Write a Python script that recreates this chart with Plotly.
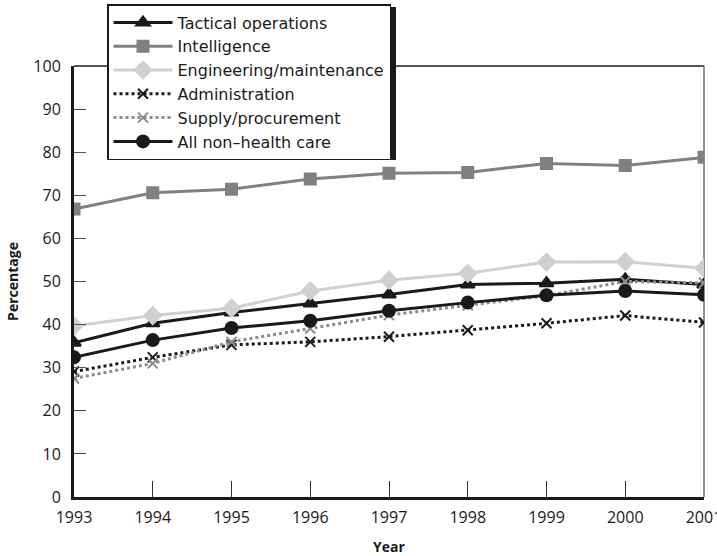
import plotly.graph_objects as go

years = [1993, 1994, 1995, 1996, 1997, 1998, 1999, 2000, 2001]
tactical = [35.8, 40.3, 42.8, 44.9, 47.0, 49.3, 49.6, 50.5, 49.3]
intelligence = [66.8, 70.6, 71.4, 73.8, 75.1, 75.3, 77.4, 76.9, 78.8]
engineering = [39.7, 42.1, 43.8, 47.8, 50.3, 51.9, 54.5, 54.6, 53.1]
administration = [29.1, 32.4, 35.3, 36.0, 37.2, 38.7, 40.3, 42.1, 40.5]
supply = [27.5, 31.0, 36.0, 39.1, 42.2, 44.5, 46.7, 50.0, 49.7]
all_nonhealth = [32.4, 36.4, 39.2, 40.9, 43.2, 45.1, 46.8, 47.8, 46.9]

series = [
    ("Tactical operations", tactical, "#1a1a1a", "solid", "triangle-up", 12),
    ("Intelligence", intelligence, "#808080", "solid", "square", 11),
    ("Engineering/maintenance", engineering, "#d0d0d0", "solid", "diamond", 13),
    ("Administration", administration, "#1a1a1a", "dot", "x-thin", 10),
    ("Supply/procurement", supply, "#8c8c8c", "dot", "x-thin", 10),
    ("All non\u2013health care", all_nonhealth, "#1a1a1a", "solid", "circle", 12),
]

fig = go.Figure()
for i, (name, vals, color, dash, sym, size) in enumerate(series):
    fig.add_trace(go.Scatter(
        x=years, y=vals, name=name, mode="lines+markers",
        legendgroup=f"g{i}",
        line=dict(color=color, width=3, dash=dash),
        marker=dict(symbol=sym, size=size, color=color,
                    line=dict(color=color, width=2)),
    ))

L, R, T, B = 74, 13, 66, 59
W, H = 717, 556
pw, ph = W - L - R, H - T - B

def px2x(px):
    return (px - L) / pw

def py2y(py):
    return (H - B - py) / ph

# frame: thin top and right
fig.add_shape(type="line", xref="paper", yref="paper", x0=0, x1=1, y0=1, y1=1,
              line=dict(color="#1a1a1a", width=1.5), layer="below")
fig.add_shape(type="line", xref="paper", yref="paper", x0=1, x1=1, y0=0, y1=1,
              line=dict(color="#707070", width=1.5), layer="below")
# legend shadow
fig.add_shape(type="rect", xref="paper", yref="paper",
              x0=px2x(110), x1=px2x(396), y0=py2y(160), y1=py2y(7),
              line=dict(width=0), fillcolor="#1a1a1a", layer="above")

fig.update_layout(
    width=W, height=H,
    margin=dict(l=L, r=R, t=T, b=B, autoexpand=False),
    paper_bgcolor="white", plot_bgcolor="white",
    font=dict(family="Open Sans, Noto Sans, sans-serif", color="#1a1a1a", size=16),
    showlegend=True,
    legend=dict(
        x=px2x(107), y=py2y(4), xanchor="left", yanchor="top",
        bgcolor="white", bordercolor="#1a1a1a", borderwidth=1.5,
        font=dict(size=16, family="DejaVu Sans, Open Sans, sans-serif"),
        tracegroupgap=0, itemwidth=59,
    ),
    xaxis=dict(
        range=[1993, 2001], tickmode="array", tickvals=years,
        ticktext=[str(y) for y in years],
        ticks="inside", ticklen=16, tickwidth=1.2, tickcolor="#333",
        showline=True, linecolor="#1a1a1a", linewidth=3,
        showgrid=False, zeroline=False, automargin=False,
        ticklabelstandoff=4, ticklabeloverflow="allow",
        title=dict(text="<b>Year</b>", font=dict(size=14), standoff=16),
        tickfont=dict(size=16),
    ),
    yaxis=dict(
        range=[0, 100], tickvals=list(range(0, 101, 10)),
        ticks="inside", ticklen=12, tickwidth=1.2, tickcolor="#555",
        showline=True, linecolor="#1a1a1a", linewidth=3,
        showgrid=False, zeroline=False, automargin=False,
        ticklabelstandoff=7,
        title=dict(text="<b>Percentage</b>", font=dict(size=14), standoff=12),
        tickfont=dict(size=16),
    ),
)

fig.write_html("out.html", config={"displayModeBar": False},
               post_script="document.body.style.margin='0px';")
